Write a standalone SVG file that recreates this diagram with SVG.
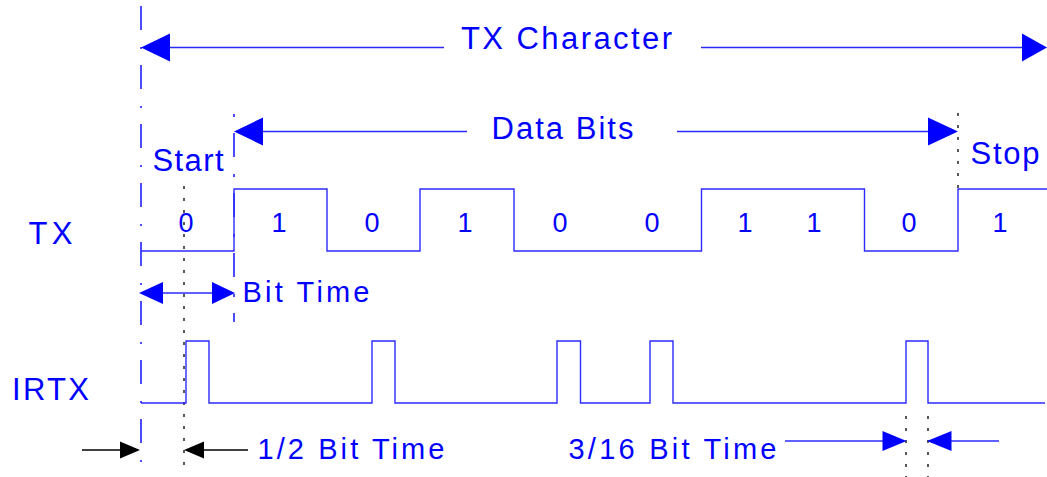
<svg xmlns="http://www.w3.org/2000/svg" width="1047" height="477" viewBox="0 0 1047 477">
<style>
.t{font-family:"Liberation Sans",Arial,sans-serif;fill:#0000ff;}
.big{font-size:31px;}
.mid{font-size:29px;}
.dig{font-size:27px;text-anchor:middle;}
.wave{fill:none;stroke:#2b2bff;stroke-width:1.4;}
.ln{stroke:#2b2bff;stroke-width:1.4;fill:none;}
.ah{fill:#0000ff;stroke:none;}
.bk{stroke:#000;stroke-width:1.4;fill:none;}
.bah{fill:#000;}
.dd{stroke:#0000ff;stroke-width:1.4;stroke-dasharray:24 17 2 16;fill:none;}
.dot{stroke:#000;stroke-width:1.3;stroke-dasharray:3 9;fill:none;}
</style>
<rect width="1047" height="477" fill="#fff"/>
<g id="guides">
<line class="dd" x1="141" y1="6" x2="141" y2="463"/>
<line class="dd" x1="234" y1="114" x2="234" y2="322" style="stroke-dasharray:3 16 24 17"/>
<line class="dot" x1="184" y1="186" x2="184" y2="465"/>
<line class="dot" x1="958" y1="113" x2="958" y2="195"/>
<line class="dot" x1="906" y1="416" x2="906" y2="477"/>
<line class="dot" x1="928" y1="416" x2="928" y2="477"/>
</g>
<g id="connectors">
<line class="ln" x1="168" y1="47.5" x2="444" y2="47.5"/>
<line class="ln" x1="701" y1="47.5" x2="1024" y2="47.5"/>
<polygon class="ah" points="141,47.5 170,33.5 170,61.5"/>
<polygon class="ah" points="1047,47.5 1022,33.5 1022,61.5"/>
<line class="ln" x1="261" y1="131.5" x2="467" y2="131.5"/>
<line class="ln" x1="677" y1="131.5" x2="930" y2="131.5"/>
<polygon class="ah" points="234,131.5 263,117.5 263,145.5"/>
<polygon class="ah" points="958,131.5 928,117.5 928,145.5"/>
<line class="ln" x1="160" y1="293" x2="214" y2="293"/>
<polygon class="ah" points="139,293 163,282 163,304"/>
<polygon class="ah" points="235,293 212,282 212,304"/>
<line class="bk" x1="82" y1="450" x2="122" y2="450"/>
<polygon class="bah" points="140,450 120,441.5 120,458.5"/>
<line class="bk" x1="202" y1="450" x2="248" y2="450"/>
<polygon class="bah" points="184,450 204,441.5 204,458.5"/>
<line class="ln" x1="785" y1="441" x2="885" y2="441"/>
<polygon class="ah" points="906.5,441 882.5,431 882.5,451"/>
<line class="ln" x1="950" y1="441" x2="999" y2="441"/>
<polygon class="ah" points="927,441 951.5,431 951.5,451"/>
</g>
<g id="tx-wave">
<polyline class="wave" points="141,251 234,251 234,189 327,189 327,251 420,251 420,189 514,189 514,251 701.5,251 701.5,189 864.5,189 864.5,251 958,251 958,189 1047,189"/>
</g>
<g id="irtx-wave">
<polyline class="wave" points="141,403 186,403 186,341 209,341 209,403 372,403 372,341 395,341 395,403 557,403 557,341 580.5,341 580.5,403 650,403 650,341 673,341 673,403 906,403 906,341 928,341 928,403 1045,403"/>
</g>
<g id="labels">
<text class="t big" x="461" y="49" textLength="211" lengthAdjust="spacing">TX Character</text>
<text class="t big" x="491.5" y="139.3" textLength="142" lengthAdjust="spacing">Data Bits</text>
<text class="t big" x="152.5" y="170.7" textLength="71" lengthAdjust="spacing">Start</text>
<text class="t big" x="970.5" y="164" textLength="69" lengthAdjust="spacing">Stop</text>
<text class="t big" x="28.5" y="244" textLength="44" lengthAdjust="spacing">TX</text>
<text class="t big" x="12" y="400" textLength="77" lengthAdjust="spacing">IRTX</text>
<text class="t mid" x="242.5" y="301.7" textLength="127" lengthAdjust="spacing">Bit Time</text>
<text class="t mid" x="257.5" y="459" textLength="187" lengthAdjust="spacing">1/2 Bit Time</text>
<text class="t mid" x="568.5" y="459" textLength="208" lengthAdjust="spacing">3/16 Bit Time</text>
</g>
<g id="bits" class="t dig">
<text x="186" y="232">0</text>
<text x="279" y="232">1</text>
<text x="372" y="232">0</text>
<text x="465" y="232">1</text>
<text x="560" y="232">0</text>
<text x="652" y="232">0</text>
<text x="745" y="232">1</text>
<text x="814" y="232">1</text>
<text x="909" y="232">0</text>
<text x="1000" y="232">1</text>
</g>
</svg>
